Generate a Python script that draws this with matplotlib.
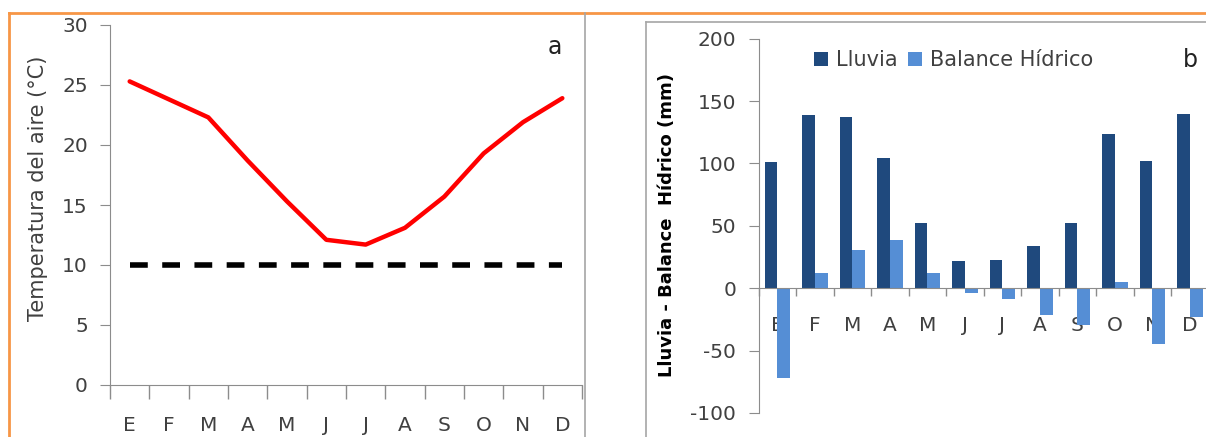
import matplotlib.pyplot as plt
from matplotlib.lines import Line2D
import numpy as np

plt.rcParams['font.family'] = ['DejaVu Sans']
plt.rcParams['axes.unicode_minus'] = False

months = ['E', 'F', 'M', 'A', 'M', 'J', 'J', 'A', 'S', 'O', 'N', 'D']
temp = [25.3, 23.8, 22.3, 18.7, 15.3, 12.1, 11.7, 13.1, 15.7, 19.3, 21.9, 23.9]
umbral = [10] * 12
lluvia = [101, 139, 137.5, 104, 52, 21.5, 23, 34, 52, 123.5, 102, 140]
balance = [-72, 12, 31, 38.5, 12, -4, -8.5, -21.5, -29.5, 5, -45, -23]

W, H = 1206, 437
fig = plt.figure(figsize=(W / 100, H / 100), dpi=100)
txt = '#404040'
gris = '#8c8c8c'

# marcos (naranja y gris)
def hline(x0, x1, y, **kw):
    fig.add_artist(Line2D([x0 / W, x1 / W], [1 - y / H, 1 - y / H], transform=fig.transFigure, **kw))

def vline(x, y0, y1, **kw):
    fig.add_artist(Line2D([x / W, x / W], [1 - y0 / H, 1 - y1 / H], transform=fig.transFigure, **kw))

hline(9, W, 13, color='#F79646', lw=2)
vline(9, 13, H, color='#F79646', lw=2)
vline(585, 13, H, color='#a6a6a6', lw=1.2)
hline(645.5, W, 22, color='#a6a6a6', lw=1.2)
vline(645.5, 22, H, color='#a6a6a6', lw=1.2)

x = np.arange(12) + 0.5

# a) temperatura
ax = fig.add_axes([110 / W, 1 - 385 / H, 472 / W, 360 / H])
ax.plot(x, temp, color='#FF0000', lw=3.2, solid_capstyle='round')
ax.plot(x, umbral, color='black', lw=4, dashes=(3.2, 2.6))
ax.set_xlim(0, 12)
ax.set_ylim(0, 30)
ax.set_yticks(range(0, 31, 5))
ax.set_xticks(x)
ax.set_xticklabels(months)
ax.set_xticks(range(0, 13), minor=True)
ax.tick_params(axis='x', which='major', length=0, pad=22, labelsize=14.5, labelcolor=txt)
ax.tick_params(axis='x', which='minor', length=10, color=gris, width=1)
ax.tick_params(axis='y', length=7, color=gris, pad=9, labelsize=14.5, labelcolor=txt)
for s in ['top', 'right']:
    ax.spines[s].set_visible(False)
for s in ['left', 'bottom']:
    ax.spines[s].set_color(gris)
ax.set_ylabel('Temperatura del aire (°C)', fontsize=15, color=txt, va='center')
ax.yaxis.set_label_coords(-0.1525, 0.547)
fig.text(555 / W, 1 - 47 / H, 'a', fontsize=17, color='#222222', ha='center', va='center')

# b) lluvia y balance hidrico
bx = fig.add_axes([758.5 / W, 1 - 413 / H, 450 / W, (413 - 38.7) / H])
bw = 0.34
bx.bar(x - bw / 2, lluvia, bw, color='#1F497D', label='Lluvia', zorder=2)
bx.bar(x + bw / 2, balance, bw, color='#558ED5', label='Balance Hídrico', zorder=2)
bx.set_xlim(0, 12)
bx.set_ylim(-100, 200)
bx.set_yticks(range(-100, 201, 50))
bx.set_xticks(x)
bx.set_xticklabels(months)
bx.set_xticks(range(0, 13), minor=True)
bx.spines['bottom'].set_position(('data', 0))
bx.tick_params(axis='x', which='major', length=0, pad=20, labelsize=14.5, labelcolor=txt)
bx.tick_params(axis='x', which='minor', length=6, color=gris, width=1)
bx.tick_params(axis='y', length=7, color=gris, pad=9, labelsize=14.5, labelcolor=txt)
for s in ['top', 'right']:
    bx.spines[s].set_visible(False)
for s in ['left', 'bottom']:
    bx.spines[s].set_color(gris)
bx.set_ylabel('Lluvia - Balance  Hídrico (mm)', fontsize=13, fontweight='bold', color='black', va='center')
bx.yaxis.set_label_coords(-0.2033, 0.5036)
bx.legend(loc='center left', bbox_to_anchor=(813.8 / W, 1 - 60 / H), bbox_transform=fig.transFigure,
          ncol=2, frameon=False, fontsize=15, handlelength=0.67, handleheight=0.67, borderpad=0,
          borderaxespad=0, handletextpad=0.41, columnspacing=0.48, labelcolor=txt)
fig.text(1190 / W, 1 - 60 / H, 'b', fontsize=17, color='#222222', ha='center', va='center')

fig.savefig('out.png', dpi=100)
